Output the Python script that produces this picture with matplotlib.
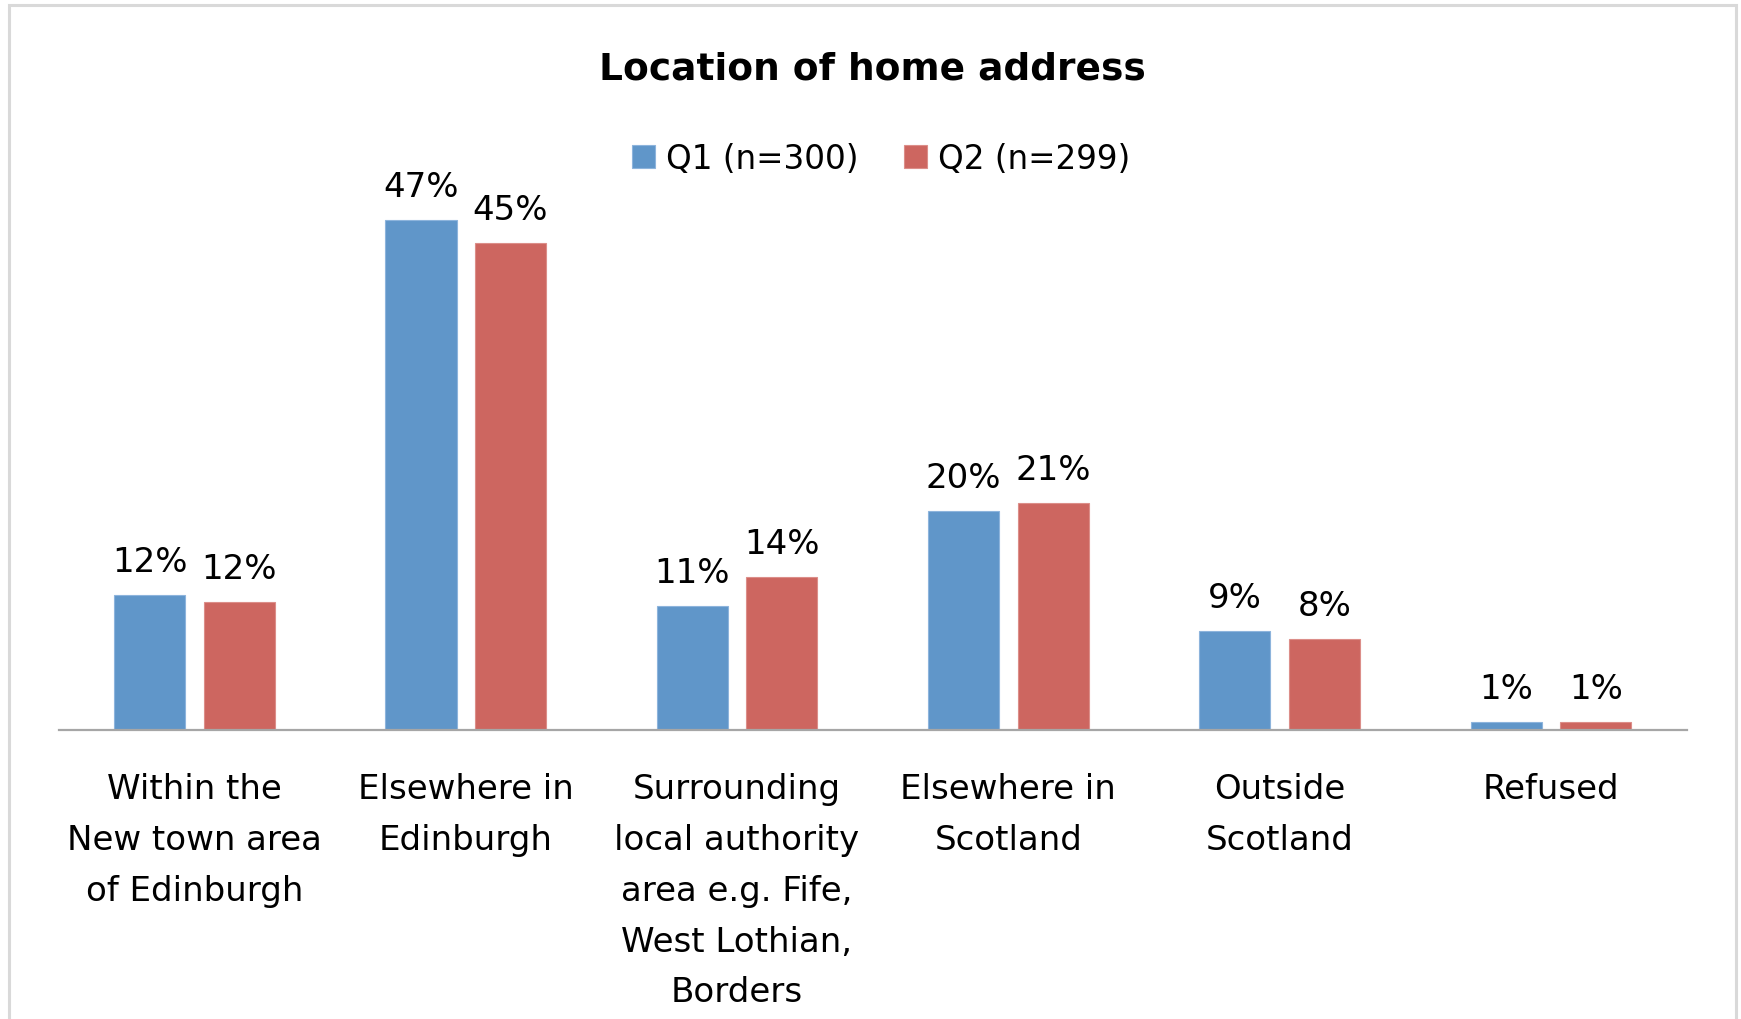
import matplotlib
matplotlib.use("Agg")
import matplotlib.pyplot as plt
from matplotlib.patches import Rectangle

plt.rcParams['font.family'] = ['DejaVu Sans']

# ---- data ----
categories = [
    "Within the\nNew town area\nof Edinburgh",
    "Elsewhere in\nEdinburgh",
    "Surrounding\nlocal authority\narea e.g. Fife,\nWest Lothian,\nBorders",
    "Elsewhere in\nScotland",
    "Outside\nScotland",
    "Refused",
]
series_names = ["Q1 (n=300)", "Q2 (n=299)"]
q1_values = [12.4, 47.0, 11.4, 20.2, 9.1, 0.7]
q2_values = [11.8, 44.9, 14.1, 20.9, 8.4, 0.7]
title = "Location of home address"

# ---- style ----
W, H = 1741, 1020
DPI = 100
blue = "#6096C9"
red = "#CD6660"
label_fs = 24.5
legend_fs = 23.5
title_fs = 27

fig = plt.figure(figsize=(W / DPI, H / DPI), dpi=DPI)
fig.patch.set_facecolor("white")

left_px, right_px = 58.8, 1686.6
base_px, top_px = 730.6, 188.5
ax = fig.add_axes([left_px / W, 1 - base_px / H,
                   (right_px - left_px) / W, (base_px - top_px) / H])

n = len(categories)
x = list(range(n))
bw = 0.262
off = 0.165
b1 = ax.bar([i - off for i in x], q1_values, width=bw, color=blue,
            edgecolor="#8DB4DC", linewidth=0.8, label=series_names[0])
b2 = ax.bar([i + off for i in x], q2_values, width=bw, color=red,
            edgecolor="#DC8E89", linewidth=0.8, label=series_names[1])

ax.set_xlim(-0.5, n - 0.5)
ax.set_ylim(0, 50)
for s in ["top", "left", "right"]:
    ax.spines[s].set_visible(False)
ax.spines["bottom"].set_color("#A6A6A6")
ax.spines["bottom"].set_linewidth(1.6)
ax.set_xticks([])
ax.set_yticks([])

# data labels
for bars, vals in ((b1, q1_values), (b2, q2_values)):
    for rect, v in zip(bars, vals):
        ax.annotate(f"{v:.0f}%", xy=(rect.get_x() + rect.get_width() / 2, v),
                    xytext=(0, 24), textcoords="offset pixels",
                    ha="center", va="baseline", fontsize=label_fs,
                    color="black")

# category labels (one line at a time)
for i, cat in enumerate(categories):
    for k, line in enumerate(cat.split("\n")):
        ax.annotate(line, xy=(i, 0), xytext=(0, -68.5 - k * 50.8),
                    textcoords="offset pixels", ha="center", va="baseline",
                    fontsize=label_fs, color="black", annotation_clip=False)

# title
fig.text(872.7 / W, 1 - 70.0 / H, title, ha="center", va="center",
         fontsize=title_fs, fontweight="bold", color="black")

# legend
fig.legend(handles=[b1, b2], labels=series_names, loc="center",
           bbox_to_anchor=(881.0 / W, 1 - 159.5 / H), ncol=2, frameon=False,
           fontsize=legend_fs, handlelength=0.7, handleheight=0.7,
           handletextpad=0.34, columnspacing=1.4, borderpad=0, borderaxespad=0)

# chart border
fig.patches.append(Rectangle((9 / W, -0.02), (1735.5 - 9) / W, 1.02 - 5.5 / H,
                             transform=fig.transFigure, fill=False,
                             edgecolor="#D9D9D9", linewidth=2.2))

fig.savefig("out.png", dpi=DPI, facecolor="white")
